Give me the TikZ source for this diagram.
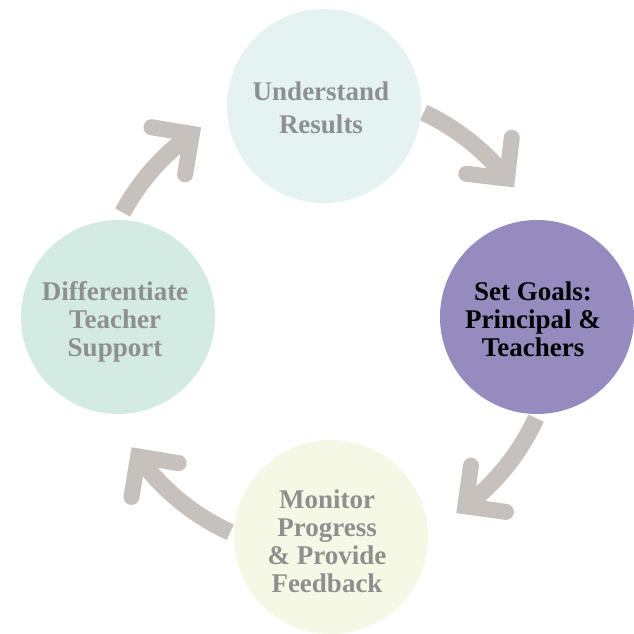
\documentclass[tikz,border=0pt]{standalone}
\usepackage{fontspec}
\setmainfont{Liberation Serif}
\usetikzlibrary{calc}
\definecolor{ucol}{HTML}{E4F3F2}
\definecolor{dcol}{HTML}{D3EBE3}
\definecolor{scol}{HTML}{958BBF}
\definecolor{mcol}{HTML}{F5F8E5}
\definecolor{txtgray}{HTML}{8F8F8F}
\definecolor{arrgray}{HTML}{C6C1BC}
\tikzset{
  circ/.style={circle, minimum size=194pt, inner sep=0pt, draw=none},
  lbl/.style={align=center, font=\bfseries\fontsize{27}{28}\selectfont, text=txtgray, inner sep=0pt},
  shaft/.style={draw=arrgray, line width=17pt, line cap=butt},
  head/.style={draw=arrgray, line width=16pt, line cap=round, line join=miter},
}
\begin{document}
\begin{tikzpicture}[x=1pt,y=-1pt]
\useasboundingbox (0,0) rectangle (633,634);
\fill[white] (0,0) rectangle (633,634);
% arrows
\coordinate (C) at (326,322);
\path (C) ++(208.3:231) coordinate (t1);
\path (C) ++(295:231) coordinate (t2);
\path (C) ++(24.6:231) coordinate (t3);
\path (C) ++(114.5:231) coordinate (t4);
\draw[shaft] (t1) arc[start angle=208.3, end angle=234.5, radius=231] coordinate (v1);
\draw[shaft] (t2) arc[start angle=295, end angle=321.6, radius=231] coordinate (v2);
\draw[shaft] (t3) arc[start angle=24.6, end angle=52.9, radius=231] coordinate (v3);
\draw[shaft] (t4) arc[start angle=114.5, end angle=144.4, radius=231] coordinate (v4);
\draw[head] (v1) ++(189.5:41) -- (v1) -- ++(99.5:41);
\draw[head] (v2) ++(276.6:41) -- (v2) -- ++(186.6:41);
\draw[head] (v3) ++(7.9:41) -- (v3) -- ++(277.9:41);
\draw[head] (v4) ++(99.4:41) -- (v4) -- ++(9.4:41);
% circles
\node[circ, fill=ucol] (U) at (324,106) {};
\node[circ, fill=scol] (S) at (537,317) {};
\node[circ, fill=mcol] (M) at (331,537) {};
\node[circ, fill=dcol] (D) at (118,317) {};
% texts
\node[lbl, font=\bfseries\fontsize{27}{33}\selectfont, xshift=-3pt, yshift=-2pt] (Ut) at (U) {Understand\\Results};
\node[lbl, text=black, xshift=-4pt, yshift=-2pt] (St) at (S) {Set Goals:\\Principal \&\\Teachers};
\node[lbl, xshift=-4pt, yshift=-4pt] (Mt) at (M) {Monitor\\Progress\\\& Provide\\Feedback};
\node[lbl, xshift=-3pt, yshift=-4.5pt] (Dt) at (D) {Differentiate\\Teacher\\Support};
\end{tikzpicture}
\end{document}
